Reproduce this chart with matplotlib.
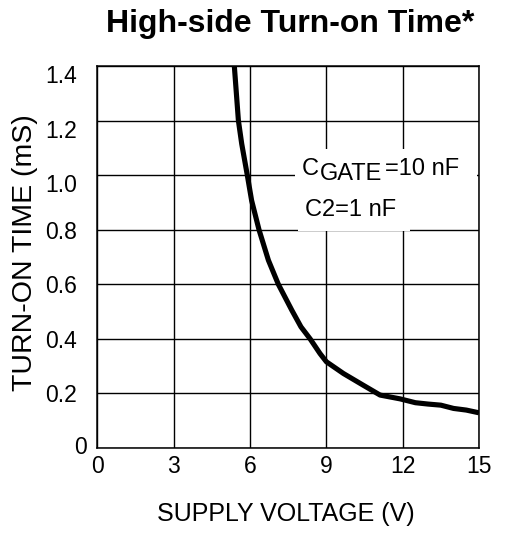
import matplotlib.pyplot as plt
from matplotlib.patches import Rectangle
from matplotlib.transforms import ScaledTranslation

plt.rcParams['font.family'] = ['Liberation Sans', 'DejaVu Sans']

# curve
supply_voltage = [5.38, 5.54, 5.67, 5.89, 6.06, 6.35, 6.72, 7.11, 7.64, 8.0, 8.36, 8.75,
                  9.0, 9.67, 10.45, 11.11, 11.9, 12.5, 13.0, 13.5, 14.0, 14.5, 15.0]
turn_on_time = [1.40, 1.20, 1.115, 1.00, 0.907, 0.80, 0.688, 0.60, 0.505, 0.444, 0.40, 0.346,
                0.316, 0.273, 0.23, 0.194, 0.180, 0.166, 0.161, 0.157, 0.145, 0.139, 0.129]

x_ticks = [0, 3, 6, 9, 12, 15]
y_ticks = [0, 0.2, 0.4, 0.6, 0.8, 1.0, 1.2, 1.4]
y_tick_labels = ['0', '0.2', '0.4', '0.6', '0.8', '1.0', '1.2', '1.4']

W, H = 506, 535
fig = plt.figure(figsize=(W / 100, H / 100), dpi=100)
ax = fig.add_axes([97.5 / W, 1 - 448 / H, (479 - 97.5) / W, (448 - 66) / H])

ax.plot(supply_voltage, turn_on_time, color='black', linewidth=3.7,
        solid_capstyle='butt', solid_joinstyle='round', zorder=3)

ax.set_xlim(0, 15)
ax.set_ylim(0, 1.4)
ax.set_xticks(x_ticks)
ax.set_yticks(y_ticks)
ax.set_yticklabels(y_tick_labels)
ax.grid(True, color='black', linewidth=1.0)
ax.set_axisbelow(True)
for s in ax.spines.values():
    s.set_linewidth(1.1)
ax.tick_params(axis='x', length=0, pad=5, labelsize=16.5)
ax.tick_params(axis='y', length=0, pad=14.5, labelsize=16.5)

# the upper y labels sit a bit low on the original, the zero a bit right
for lab in ax.get_yticklabels():
    t = lab.get_text()
    if t in ('1.0', '1.2', '1.4'):
        lab.set_transform(lab.get_transform() + ScaledTranslation(0, -6 / 72, fig.dpi_scale_trans))
    if t == '0':
        lab.set_transform(lab.get_transform() + ScaledTranslation(7 / 72, 2 / 72, fig.dpi_scale_trans))

# white boxes behind the legend text
ax.add_patch(Rectangle((7.77, 0.907), 7.15, 0.19, facecolor='white', edgecolor='none', zorder=2))
ax.add_patch(Rectangle((7.88, 0.795), 4.41, 0.12, facecolor='white', edgecolor='none', zorder=2))

fig.canvas.draw()
r = fig.canvas.get_renderer()
t1 = fig.text(302 / W, 1 - 175 / H, 'C', fontsize=17, va='baseline', zorder=4)
bb = t1.get_window_extent(r)
t2 = fig.text((bb.x1 + 0.5) / W, 1 - 180.5 / H, 'GATE', fontsize=17, va='baseline', zorder=4)
bb = t2.get_window_extent(r)
fig.text((bb.x1 + 3) / W, 1 - 175 / H, '=10 nF', fontsize=17, va='baseline', zorder=4)
fig.text(305 / W, 1 - 216.5 / H, 'C2=1 nF', fontsize=17, va='baseline', zorder=4)

fig.text(289.7 / W, 1 - 31.7 / H, 'High-side Turn-on Time*', fontsize=23,
         fontweight='bold', ha='center', va='baseline')
fig.text(286.3 / W, 1 - 521 / H, 'SUPPLY VOLTAGE (V)', fontsize=18,
         ha='center', va='baseline')
fig.text(25 / W, 1 - 253 / H, 'TURN-ON TIME (mS)', fontsize=20.5,
         rotation=90, ha='center', va='center')

fig.savefig('out.png', dpi=100)
